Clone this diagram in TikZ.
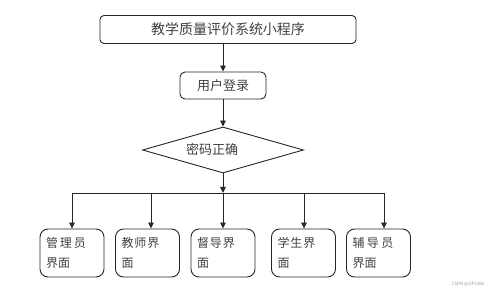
\documentclass[tikz,border=0pt]{standalone}
\usepackage{fontspec}
\setmainfont{Noto Sans CJK SC}
\usetikzlibrary{shapes.geometric,arrows.meta,calc}
\begin{document}
\begin{tikzpicture}[x=1pt,y=-1pt,
  line/.style={draw=black!85,line width=0.9pt},
  arr/.style={line,-{Triangle[length=6pt,width=5.5pt]}},
  topbox/.style={line,rounded corners=4pt,minimum width=256pt,minimum height=28pt,font=\fontsize{14}{16}\selectfont,text=black!75},
  loginbox/.style={line,rounded corners=5pt,minimum width=86pt,minimum height=27pt,font=\fontsize{13}{15}\selectfont,text=black!75},
  leafbox/.style={line,rounded corners=8pt,minimum width=64pt,minimum height=48pt,text width=52pt,align=left,inner xsep=6pt,font=\fontsize{12}{20}\selectfont,text=black!75},
  dia/.style={line,diamond,aspect=3.5,minimum width=161pt,minimum height=46pt,inner sep=0pt,font=\fontsize{13}{15}\selectfont,text=black!75}
]
\useasboundingbox (0,0) rectangle (499,296);
\node[topbox] (title) at (228,29.5) {教学质量评价系统小程序};
\node[loginbox] (login) at (223,85.5) {用户登录};
\node[dia] (check) at (223,150) {\hspace*{-22pt}密码正确};
\coordinate (bar) at (223,193);
\node[leafbox] (b1) at (72,253) {管\hspace{2pt}理\hspace{2pt}员\\界面};
\node[leafbox] (b2) at (147.5,253) {教\hspace{1pt}师\hspace{1pt}界\\面};
\node[leafbox] (b3) at (223,253) {督\hspace{1pt}导\hspace{1pt}界\\面};
\node[leafbox] (b4) at (303.5,253) {学\hspace{1pt}生\hspace{1pt}界\\面};
\node[leafbox] (b5) at (378.5,253) {辅\hspace{2.5pt}导\hspace{2.5pt}员\\界面};
\draw[arr] (title.south -| login.north) -- (login.north);
\draw[arr] (login.south) -- (check.north);
\draw[arr] (check.south) -- (bar);
\coordinate (c1) at (72,193);
\coordinate (c2) at (151,193);
\coordinate (c4) at (304,193);
\coordinate (c5) at (384,193);
\draw[line] (c1) -- (c5);
\draw[arr] (c1) -- (c1 |- b1.north);
\draw[arr] (c2) -- (c2 |- b2.north);
\draw[arr] (bar) -- (b3.north);
\draw[arr] (c4) -- (c4 |- b4.north);
\draw[arr] (c5) -- (c5 |- b5.north);
\node[font=\fontsize{4.5}{5}\selectfont,text=black!40,inner sep=0pt] (wm) at (468,284) {CSDN @GP1082};
\end{tikzpicture}
\end{document}
